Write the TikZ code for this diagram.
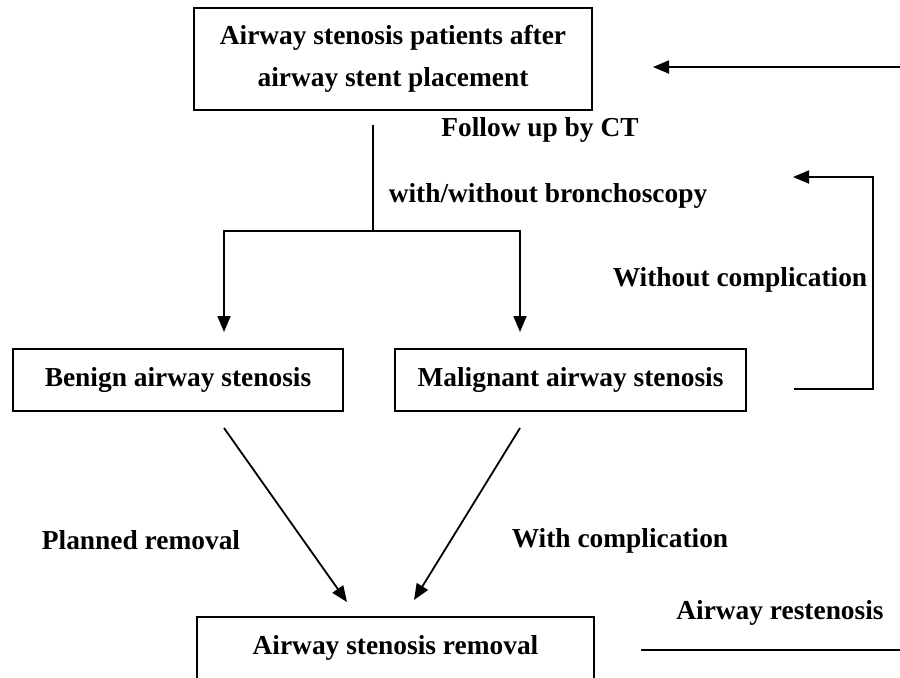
\documentclass[tikz,border=0pt]{standalone}
\usepackage{fontspec}
\setmainfont{Liberation Serif}
\usetikzlibrary{arrows.meta}
\tikzset{
x=0.5pt, y=-0.5pt, % one unit is one pixel of the sketch
>={Triangle[length=8pt,width=6.5pt]}, % filled arrow heads
box/.style={draw, inner sep=0pt, minimum height=31pt, font=\bfseries\fontsize{13.7}{21}\selectfont}, % the boxes
lbl/.style={font=\bfseries\fontsize{13.7}{16}\selectfont}, % the texts beside the lines
}

\begin{document}
\begin{tikzpicture}[line width=0.9pt]
        \useasboundingbox (0,0) rectangle (900,677);

        \node[box, minimum width=199pt, minimum height=51pt, align=center] (top) at (393,59) {Airway stenosis patients after\\airway stent placement};
        \node[box, minimum width=165pt] (benign) at (178,380) {Benign airway stenosis};
        \node[box, minimum width=175.5pt] (malig) at (570.5,380) {Malignant airway stenosis};
        \node[box, minimum width=198.5pt] (removal) at (395.5,648) {Airway stenosis removal};

        \node[lbl] (follow) at (540,130) {Follow up by CT};
        \node[lbl] (bronch) at (548,196) {with/without bronchoscopy};
        \node[lbl] (withoutc) at (740,280) {Without complication};
        \node[lbl] (planned) at (141,540) {Planned removal};
        \node[lbl] (withc) at (620,541) {With complication};
        \node[lbl] (restenosis) at (780,613) {Airway restenosis};

        \coordinate (fstart) at (373,125);
        \coordinate (fork) at (373,231);
        \coordinate (btip) at (224,332);
        \coordinate (mtip) at (520,332);
        \coordinate (mout) at (794,389);
        \coordinate (fbturn) at (873,177);
        \coordinate (fbtip) at (793,177);
        \coordinate (bfrom) at (224,428);
        \coordinate (rleft) at (347,602);
        \coordinate (mfrom) at (520,428);
        \coordinate (rright) at (414,600);
        \coordinate (back) at (900,67);
        \coordinate (backtip) at (653,67);
        \coordinate (restart) at (641,650);
        \coordinate (reend) at (900,650);

        \draw (fstart) -- (fork);
        \draw[->] (fork) -| (btip);
        \draw[->] (fork) -| (mtip);
        \draw[->] (mout) -| (fbturn) -- (fbtip);
        \draw[->] (bfrom) -- (rleft);
        \draw[->] (mfrom) -- (rright);
        \draw[->] (back) -- (backtip);
        \draw (restart) -- (reend);
      \end{tikzpicture}
\end{document}
